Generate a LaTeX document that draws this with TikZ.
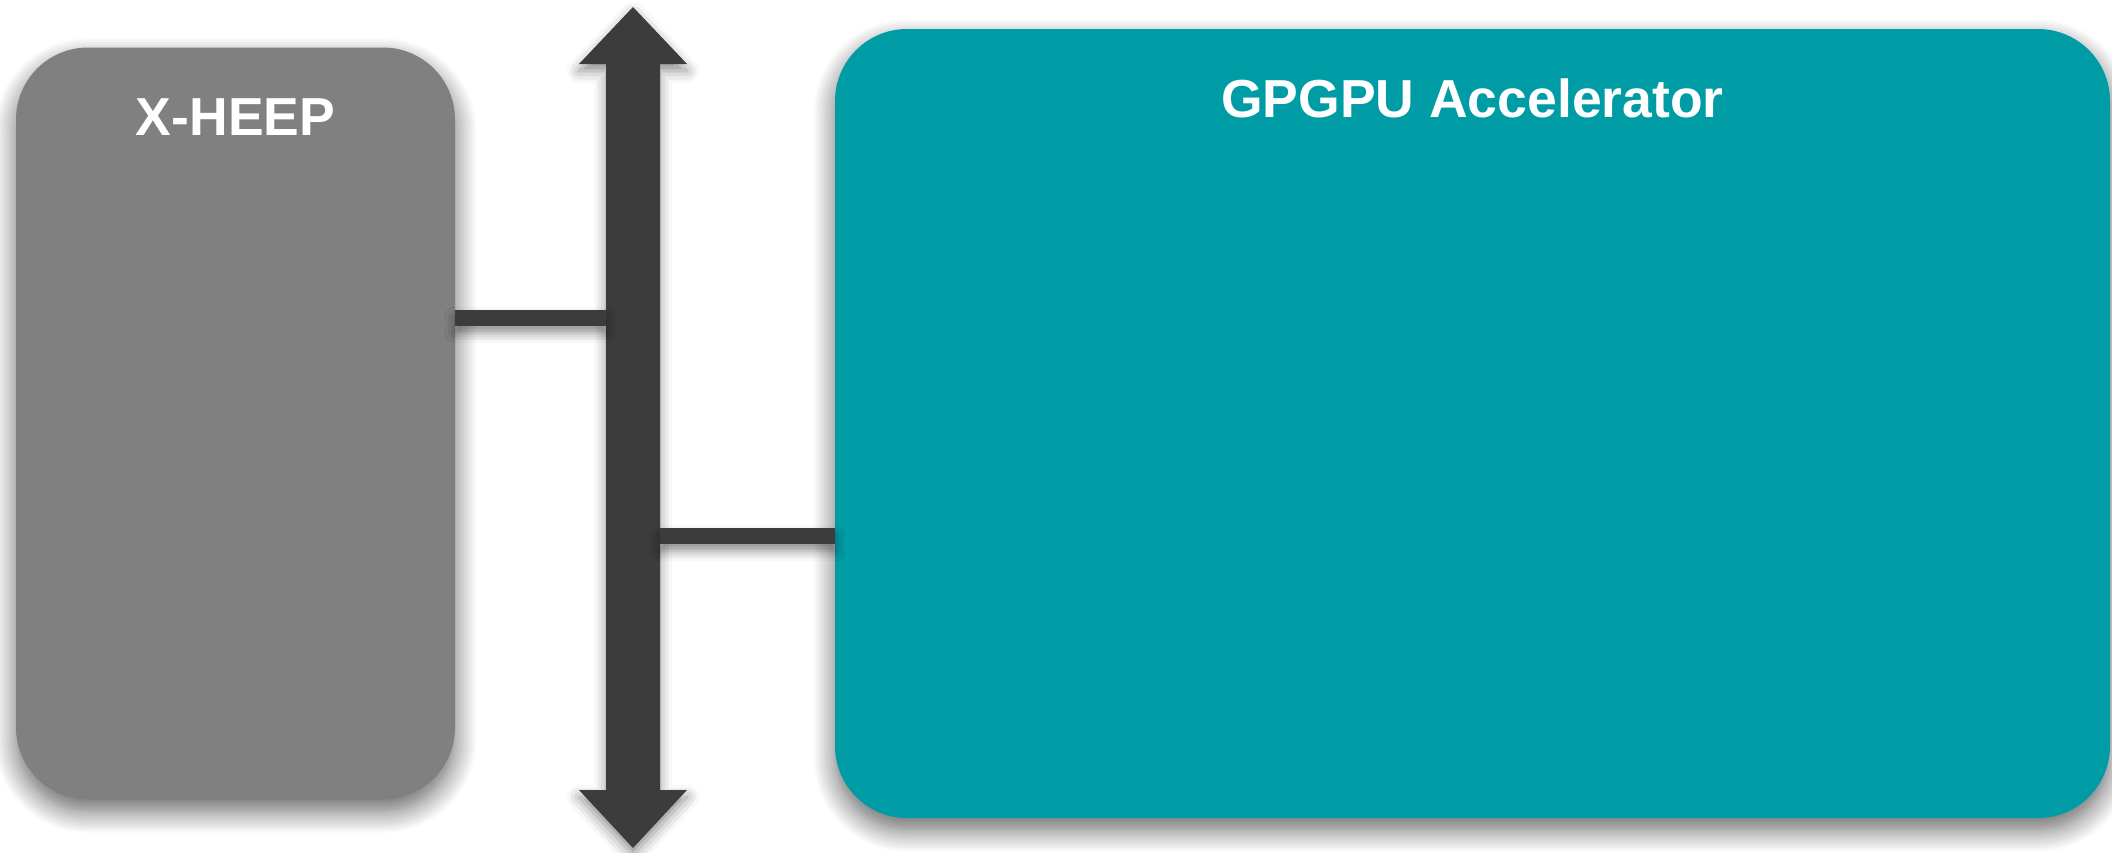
\documentclass[tikz,border=0pt]{standalone}
\usepackage{fontspec}
\setmainfont{Liberation Sans}
\usetikzlibrary{shadows.blur}
\definecolor{xgray}{HTML}{808080}
\definecolor{accteal}{HTML}{009CA6}
\definecolor{busdark}{HTML}{3C3C3C}
\tikzset{
  softshadow/.style={blur shadow={shadow xshift=0pt, shadow yshift=-12pt, shadow blur radius=22pt, shadow blur steps=12, shadow opacity=60}},
  block/.style={rounded corners=72pt, inner sep=0pt, softshadow},
  title/.style={text=white, font=\fontsize{53.5}{60}\selectfont\bfseries, inner sep=0pt, anchor=base},
  conn/.style={fill=busdark, blur shadow={shadow xshift=0pt, shadow yshift=-7pt, shadow blur radius=10pt, shadow opacity=45}},
  busfill/.style={fill=busdark, blur shadow={shadow xshift=0pt, shadow yshift=-7pt, shadow blur radius=12pt, shadow opacity=45}},
}
\begin{document}
\begin{tikzpicture}[x=1pt,y=-1pt]
\useasboundingbox (0,0) rectangle (2112,852);
% blocks
\node[block, fill=xgray, minimum width=439pt, minimum height=752pt] (xheep) at (235.5,423.5) {};
\node[block, fill=accteal, minimum width=1275pt, minimum height=789pt] (gpgpu) at (1472.5,423.5) {};
% bus (double arrow)
\node[inner sep=0pt, minimum width=54pt, minimum height=726pt] (bus) at (633,427) {};
\path[busfill] (606,64) -- (579,64) -- (633,7) -- (687,64) -- (660,64) -- (660,790) -- (687,790) -- (633,848) -- (579,790) -- (606,790) -- cycle;
% connectors
\path[conn] (xheep.east |- 0,310) rectangle (bus.west |- 0,326);
\path[conn] (bus.east |- 0,528) rectangle (gpgpu.west |- 0,544);
% labels
\node[title] (xheeplbl) at (235.5,135) {X-HEEP};
\node[title] (gpgpulbl) at (1472.5,117) {GPGPU Accelerator};
\end{tikzpicture}
\end{document}
